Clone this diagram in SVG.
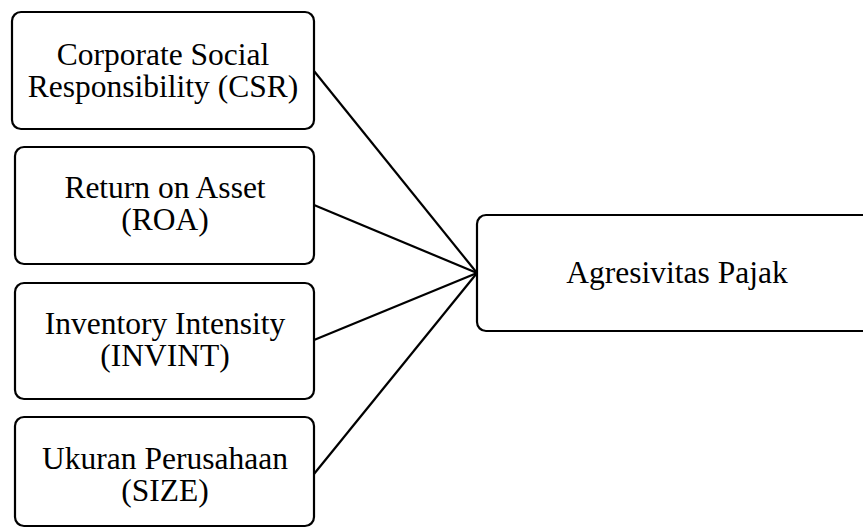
<svg xmlns="http://www.w3.org/2000/svg" width="863" height="529" viewBox="0 0 863 529">
<style>
.box{fill:#fff;stroke:#000;stroke-width:2.2}
.t{font-family:"Liberation Serif","Times New Roman",serif;font-size:31.5px;fill:#000;text-anchor:middle}
.c{stroke:#000;stroke-width:2.2;fill:none}
</style>
<rect width="863" height="529" fill="#fff"/>
<g id="connectors">
<line class="c" x1="314" y1="71" x2="477" y2="273"/>
<line class="c" x1="314" y1="205" x2="477" y2="273"/>
<line class="c" x1="314" y1="340" x2="477" y2="273"/>
<line class="c" x1="314" y1="474" x2="477" y2="273"/>
</g>
<g id="csr">
<rect class="box" x="12" y="12" width="302" height="117" rx="9"/>
<text class="t" x="163" y="65">Corporate Social</text>
<text class="t" x="163" y="97">Responsibility (CSR)</text>
</g>
<g id="roa">
<rect class="box" x="15" y="147" width="299" height="117" rx="9"/>
<text class="t" x="165" y="198">Return on Asset</text>
<text class="t" x="165" y="230">(ROA)</text>
</g>
<g id="invint">
<rect class="box" x="15" y="283" width="299" height="116" rx="9"/>
<text class="t" x="165" y="334">Inventory Intensity</text>
<text class="t" x="165" y="366">(INVINT)</text>
</g>
<g id="size">
<rect class="box" x="15" y="417" width="299" height="109" rx="9"/>
<text class="t" x="165" y="469">Ukuran Perusahaan</text>
<text class="t" x="165" y="501">(SIZE)</text>
</g>
<g id="agresivitas">
<rect class="box" x="477" y="215" width="400" height="116" rx="9"/>
<text class="t" x="677" y="283">Agresivitas Pajak</text>
</g>
</svg>
